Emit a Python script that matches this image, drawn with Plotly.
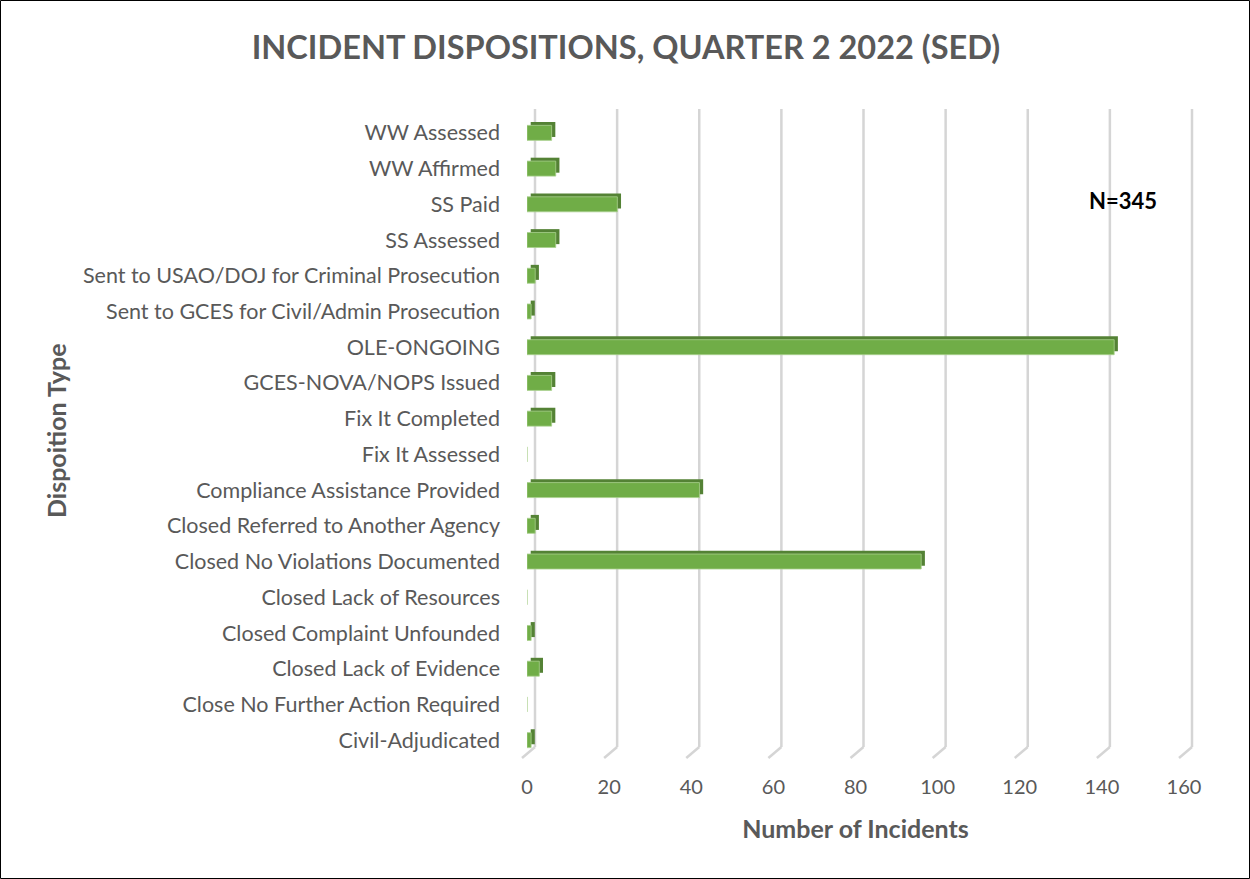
import plotly.graph_objects as go

categories = [
    "WW Assessed", "WW Affirmed", "SS Paid", "SS Assessed",
    "Sent to USAO/DOJ for Criminal Prosecution",
    "Sent to GCES for Civil/Admin Prosecution",
    "OLE-ONGOING", "GCES-NOVA/NOPS Issued", "Fix It Completed", "Fix It Assessed",
    "Compliance Assistance Provided", "Closed Referred to Another Agency",
    "Closed No Violations Documented", "Closed Lack of Resources",
    "Closed Complaint Unfounded", "Closed Lack of Evidence",
    "Close No Further Action Required", "Civil-Adjudicated",
]
values = [6, 7, 22, 7, 2, 1, 143, 6, 6, 0, 42, 2, 96, 0, 1, 3, 0, 1]
x_ticks = [0, 20, 40, 60, 80, 100, 120, 140, 160]

W, H = 1250, 879
FRONT_X0 = 527         # px of value 0 on front scale
FRONT_W = 657          # pixel width of front value scale 0..160
BACK_SHIFT = 8         # 3D depth shift of back wall (px)
FOOT_DX = 13           # px horizontal run of gridline foot
FOOT_H = 11            # px height of gridline foot
GRID_TOP = 109         # px y of gridline tops
LEFT_PAD = 10
RIGHT_PAD = 4
ML = FRONT_X0 - LEFT_PAD
MT, MB = 115, 121
PW = LEFT_PAD + FRONT_W + BACK_SHIFT + RIGHT_PAD
MR = W - ML - PW
PH = H - MT - MB
PX_PER_UNIT = FRONT_W / 160


def px_x(px):
    return (px - ML) / PW


def px_y(py):
    return (H - MB - py) / PH


FONT = "Lato"
GRAY = "#595959"
GRID = "#d5d5d5"

# 3D-style depth effect (top/side faces)
depth = 0.9
dark_base = [depth if v > 0 else 0 for v in values]

fig = go.Figure()
fig.add_trace(go.Bar(
    y=categories, x=values, base=dark_base, orientation="h",
    marker=dict(color="#548235", line=dict(width=0)),
    width=0.42, offset=-0.21 - 0.095, hoverinfo="skip", showlegend=False,
))
fig.add_trace(go.Bar(
    y=categories, x=values, orientation="h",
    marker=dict(color="#70ad47", line=dict(color="#a9d18e", width=0.8)),
    width=0.42, offset=-0.21, showlegend=False,
))
# dummy trace for back-wall axis
fig.add_trace(go.Scatter(x=[None], y=[None], xaxis="x2", yaxis="y2",
                         showlegend=False, hoverinfo="skip"))

shapes = [
    dict(type="rect", xref="paper", yref="paper",
         x0=px_x(0.5), x1=px_x(W - 0.5), y0=px_y(H - 0.5), y1=px_y(0.5),
         line=dict(color="black", width=1), fillcolor="rgba(0,0,0,0)", layer="below"),
]
for t in x_ticks:
    # back-wall gridline
    shapes.append(dict(
        type="line", xref="x2", yref="paper",
        x0=t, y0=FOOT_H / PH, x1=t, y1=px_y(GRID_TOP),
        line=dict(color=GRID, width=2.5), layer="below",
    ))
    # floor foot
    shapes.append(dict(
        type="line", xref="x2", yref="paper",
        x0=t, y0=FOOT_H / PH, x1=t - FOOT_DX / PX_PER_UNIT, y1=0,
        line=dict(color=GRID, width=2.5), layer="below",
    ))

x2_left_px = LEFT_PAD + BACK_SHIFT - FOOT_DX - 3
x2_right_px = LEFT_PAD + BACK_SHIFT + FRONT_W + RIGHT_PAD

fig.update_layout(
    width=W, height=H,
    margin=dict(l=ML, r=MR, t=MT, b=MB),
    paper_bgcolor="white", plot_bgcolor="rgba(0,0,0,0)",
    barmode="overlay",
    font=dict(family=FONT, color=GRAY, size=20),
    title=dict(
        text="<b>INCIDENT DISPOSITIONS, QUARTER 2 2022 (SED)</b>",
        x=626 / W, xanchor="center", y=1 - 48 / H, yanchor="middle",
        font=dict(family=FONT, size=32.5, color=GRAY),
    ),
    xaxis=dict(
        domain=[LEFT_PAD / PW, (LEFT_PAD + FRONT_W) / PW],
        range=[0, 160], tickvals=x_ticks, showgrid=False, zeroline=False,
        showline=False, ticks="", tickfont=dict(size=20, color=GRAY),
        ticklabelstandoff=15,
        title=dict(text="<b>Number of Incidents</b>", font=dict(size=25, color=GRAY), standoff=23),
    ),
    xaxis2=dict(
        domain=[x2_left_px / PW, x2_right_px / PW], anchor="y2",
        range=[-(LEFT_PAD + BACK_SHIFT - x2_left_px) / PX_PER_UNIT,
               160 + RIGHT_PAD / PX_PER_UNIT],
        showticklabels=False, ticks="",
        showgrid=False, zeroline=False, showline=False,
    ),
    yaxis=dict(
        categoryorder="array", categoryarray=categories, autorange="reversed",
        showgrid=False, zeroline=False, showline=False, ticks="",
        tickfont=dict(size=21.5, color=GRAY), ticklabelstandoff=26,
    ),
    yaxis2=dict(
        domain=[FOOT_H / PH, 1], anchor="x2", range=[0, 1],
        showgrid=False, zeroline=False, showline=False, showticklabels=False, ticks="",
    ),
    annotations=[
        dict(text="<b>N=345</b>", xref="paper", yref="paper",
             x=px_x(1123), y=px_y(200), showarrow=False,
             font=dict(family=FONT, size=22, color="black"),
             xanchor="center", yanchor="middle"),
        dict(text="<b>Dispoition Type</b>", xref="paper", yref="paper",
             x=px_x(56), y=px_y(431), textangle=-90, showarrow=False,
             font=dict(family=FONT, size=25, color=GRAY),
             xanchor="center", yanchor="middle"),
    ],
    shapes=shapes,
)
fig.write_html("out.html", config={"displayModeBar": False},
               post_script="document.body.style.margin='0';")
